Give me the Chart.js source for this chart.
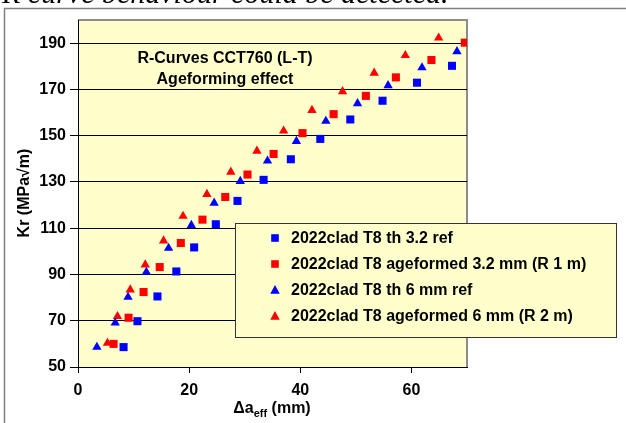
<!DOCTYPE html>
<html>
<head>
<meta charset="utf-8">
<script src="https://cdn.jsdelivr.net/npm/chart.js@4"></script>
<style>
  body { margin: 0; background: #fff; }
  #wrap { position: relative; width: 626px; height: 423px; overflow: hidden; }
  #cut { position: absolute; left: 2px; top: -24px; font: italic 30px "Liberation Serif", "DejaVu Serif", serif; color: #000; white-space: nowrap; }
</style>
</head>
<body>
<div id="wrap">
  <canvas id="rchart" width="626" height="423"></canvas>
  <div id="cut">R curve behaviour could be detected.</div>
</div>
<script>
const xTicks = [0, 20, 40, 60];
const yTicks = [50, 70, 90, 110, 130, 150, 170, 190];

const seriesNames = [
  '2022clad T8 th 3.2 ref',
  '2022clad T8 ageformed 3.2 mm (R 1 m)',
  '2022clad T8 th 6 mm ref',
  '2022clad T8 ageformed 6 mm (R 2 m)'
];

const refSq32X = [8.2, 10.7, 14.3, 17.7, 20.9, 24.8, 28.7, 33.4, 38.3, 43.6, 49.0, 54.8, 61.0, 67.3];
const refSq32Y = [58.6, 69.8, 80.5, 91.3, 101.7, 111.7, 121.8, 130.9, 139.8, 148.6, 157.0, 165.1, 172.9, 180.2];

const agedSq32X = [6.4, 9.1, 11.8, 14.7, 18.5, 22.4, 26.5, 30.5, 35.2, 40.4, 46.0, 51.8, 57.2, 63.6, 69.6];
const agedSq32Y = [60.0, 71.3, 82.4, 93.2, 103.6, 113.7, 123.5, 133.2, 142.1, 151.1, 159.3, 167.2, 175.2, 182.7, 190.2];

const refTri6X = [3.4, 6.7, 9.0, 12.3, 16.3, 20.4, 24.5, 29.2, 34.1, 39.3, 44.6, 50.3, 55.8, 61.9, 68.2];
const refTri6Y = [58.6, 69.1, 80.2, 91.0, 101.4, 111.3, 120.9, 130.3, 139.1, 147.6, 156.3, 163.9, 171.7, 179.4, 186.4];

const agedTri6X = [5.3, 7.1, 9.4, 12.1, 15.4, 18.9, 23.2, 27.5, 32.2, 37.0, 42.1, 47.6, 53.3, 58.9, 64.9];
const agedTri6Y = [60.3, 71.9, 83.4, 94.2, 104.6, 115.2, 124.7, 134.3, 143.4, 152.1, 161.0, 169.1, 177.1, 184.7, 192.3];

const toPts = (xs, ys) => xs.map((x, i) => ({ x: x, y: ys[i] }));

const FONT = '"Liberation Sans", Arial, sans-serif';

function mkSet(label, pts, color, style, r) {
  return {
    label: label,
    data: pts,
    pointStyle: style,
    pointRadius: r,
    pointHoverRadius: r,
    pointBackgroundColor: color,
    pointBorderColor: color,
    pointBorderWidth: 0,
    showLine: false
  };
}

// background, frame and plot border
const backdrop = {
  id: 'backdrop',
  beforeDraw(chart) {
    const { ctx, chartArea: a } = chart;
    ctx.save();
    ctx.fillStyle = '#fff';
    ctx.fillRect(0, 0, chart.width, chart.height);
    ctx.strokeStyle = '#808080';
    ctx.lineWidth = 1.5;
    ctx.beginPath();
    ctx.moveTo(4.5, 423);
    ctx.lineTo(4.5, 8.5);
    ctx.lineTo(626, 8.5);
    ctx.stroke();
    ctx.fillStyle = '#FFFFCC';
    ctx.fillRect(a.left, a.top, a.right - a.left, a.bottom - a.top);
    ctx.strokeStyle = '#8c8c8c';
    ctx.lineWidth = 2;
    ctx.beginPath();
    ctx.moveTo(a.left, a.top);
    ctx.lineTo(a.right, a.top);
    ctx.lineTo(a.right, a.bottom);
    ctx.stroke();
    ctx.restore();
  }
};

function marker(ctx, style, x, y, r, color) {
  ctx.fillStyle = color;
  ctx.beginPath();
  if (style === 'rect') {
    ctx.rect(x - r, y - r, 2 * r, 2 * r);
  } else {
    ctx.moveTo(x, y - r);
    ctx.lineTo(x + r * 0.95, y + r * 0.75);
    ctx.lineTo(x - r * 0.95, y + r * 0.75);
    ctx.closePath();
  }
  ctx.fill();
}

const labels = {
  id: 'labels',
  afterDraw(chart) {
    const { ctx } = chart;
    ctx.save();
    ctx.fillStyle = '#000';
    ctx.textAlign = 'center';
    ctx.textBaseline = 'middle';
    ctx.font = 'bold 16px ' + FONT;
    ctx.fillText('R-Curves CCT760 (L-T)', 225, 59);
    ctx.fillText('Ageforming effect', 225, 80);

    // y title
    ctx.save();
    ctx.translate(25, 193);
    ctx.rotate(-Math.PI / 2);
    ctx.fillText('Kr (MPa\u221Am)', 0, 0);
    ctx.restore();

    // x title with subscript
    ctx.textAlign = 'left';
    ctx.textBaseline = 'alphabetic';
    const mainA = 'Δa', sub = 'eff', rest = ' (mm)';
    ctx.font = 'bold 16px ' + FONT;
    const wA = ctx.measureText(mainA).width;
    const wR = ctx.measureText(rest).width;
    ctx.font = 'bold 11px ' + FONT;
    const wS = ctx.measureText(sub).width;
    let x0 = 272 - (wA + wS + wR) / 2;
    ctx.font = 'bold 16px ' + FONT;
    ctx.fillText(mainA, x0, 413);
    ctx.font = 'bold 11px ' + FONT;
    ctx.fillText(sub, x0 + wA, 417);
    ctx.font = 'bold 16px ' + FONT;
    ctx.fillText(rest, x0 + wA + wS, 413);

    // legend box
    ctx.fillStyle = '#FFFFCC';
    ctx.fillRect(235, 223, 382, 115);
    ctx.strokeStyle = '#333';
    ctx.lineWidth = 1;
    ctx.strokeRect(235.5, 223.5, 381, 114);
    const rows = [238, 264, 290, 316];
    chart.data.datasets.forEach((ds, i) => {
      const st = ds.pointStyle === 'rect' ? 'rect' : 'triangle';
      marker(ctx, st, 275, rows[i], st === 'rect' ? 3.8 : 5, ds.pointBackgroundColor);
      ctx.fillStyle = '#000';
      ctx.font = 'bold 16px ' + FONT;
      ctx.textBaseline = 'middle';
      ctx.fillText(ds.label, 291, rows[i] + 1);
    });
    ctx.restore();
  }
};

new Chart(document.getElementById('rchart'), {
  type: 'scatter',
  data: {
    datasets: [
      mkSet(seriesNames[0], toPts(refSq32X, refSq32Y), '#0000FF', 'rect', 5.7),
      mkSet(seriesNames[1], toPts(agedSq32X, agedSq32Y), '#FF0000', 'rect', 5.7),
      mkSet(seriesNames[2], toPts(refTri6X, refTri6Y), '#0000FF', 'triangle', 5.4),
      mkSet(seriesNames[3], toPts(agedTri6X, agedTri6Y), '#FF0000', 'triangle', 5.4)
    ]
  },
  options: {
    responsive: false,
    animation: false,
    devicePixelRatio: 1,
    layout: { padding: { left: 0, right: 159, top: 20, bottom: 0 } },
    plugins: { legend: { display: false }, tooltip: { enabled: false } },
    scales: {
      x: {
        type: 'linear',
        min: 0,
        max: 70,
        afterBuildTicks: s => { s.ticks = xTicks.map(v => ({ value: v })); },
        afterFit: s => { s.height = 56; },
        grid: { drawOnChartArea: false, drawTicks: true, tickLength: 6, tickColor: '#000' },
        border: { color: '#000', width: 1 },
        ticks: { color: '#000', font: { family: FONT, size: 16, weight: 'bold' }, padding: 8, maxRotation: 0 }
      },
      y: {
        type: 'linear',
        min: 50,
        max: 200,
        afterBuildTicks: s => { s.ticks = yTicks.map(v => ({ value: v })); },
        afterFit: s => { s.width = 78; },
        grid: { color: '#000', lineWidth: 1, drawTicks: true, tickLength: 8, tickColor: '#000' },
        border: { color: '#000', width: 1 },
        ticks: { color: '#000', font: { family: FONT, size: 16, weight: 'bold' }, padding: 4 }
      }
    }
  },
  plugins: [backdrop, labels]
});
</script>
</body>
</html>
